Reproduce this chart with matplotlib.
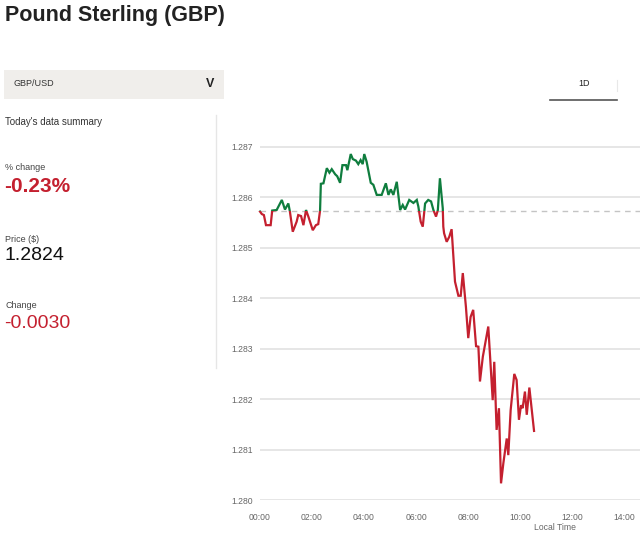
import matplotlib
matplotlib.use("Agg")
import matplotlib.pyplot as plt
from matplotlib.patches import Rectangle
from matplotlib.lines import Line2D

plt.rcParams['font.family'] = ['Liberation Sans', 'DejaVu Sans']

# --- data (local time in hours, GBP/USD price) ---
hours = [0.00, 0.07, 0.15, 0.23, 0.41, 0.47, 0.64, 0.84, 0.96, 1.09, 1.15, 1.26,
         1.41, 1.47, 1.58, 1.67, 1.77, 1.86, 2.03, 2.15, 2.24, 2.31, 2.34, 2.44,
         2.57, 2.67, 2.76, 2.89, 2.97, 3.08, 3.17, 3.31, 3.36, 3.49, 3.57, 3.69,
         3.78, 3.87, 3.95, 4.01, 4.10, 4.26, 4.36, 4.49, 4.68, 4.84, 4.94, 5.03,
         5.13, 5.26, 5.39, 5.49, 5.58, 5.74, 5.90, 6.03, 6.09, 6.18, 6.26, 6.35,
         6.47, 6.58, 6.67, 6.77, 6.84, 6.92, 7.03, 7.05, 7.08, 7.18, 7.28, 7.37,
         7.50, 7.63, 7.72, 7.80, 7.92, 8.01, 8.10, 8.20, 8.31, 8.40, 8.46, 8.57,
         8.78, 8.95, 9.01, 9.10, 9.19, 9.27, 9.36, 9.49, 9.55, 9.64, 9.78, 9.87,
         9.96, 10.04, 10.10, 10.19, 10.26, 10.36, 10.54]
prices = [1.28572, 1.28567, 1.28565, 1.28545, 1.28545, 1.28574, 1.28575, 1.28595,
          1.28576, 1.28588, 1.28572, 1.28532, 1.28552, 1.28565, 1.28563, 1.28545,
          1.28575, 1.28562, 1.28535, 1.28545, 1.28547, 1.28574, 1.28627, 1.28628,
          1.28658, 1.28649, 1.28656, 1.28646, 1.28642, 1.28629, 1.28664, 1.28664,
          1.28654, 1.28686, 1.28676, 1.28673, 1.28666, 1.28674, 1.28666, 1.28686,
          1.28671, 1.28629, 1.28625, 1.28605, 1.28605, 1.28628, 1.28605, 1.28616,
          1.28605, 1.28631, 1.28575, 1.28585, 1.28576, 1.28595, 1.28589, 1.28595,
          1.28582, 1.28552, 1.28542, 1.28588, 1.28595, 1.28592, 1.28575, 1.28562,
          1.28575, 1.28638, 1.28578, 1.28542, 1.28529, 1.28512, 1.28522, 1.28537,
          1.28433, 1.28405, 1.28405, 1.28450, 1.28383, 1.28321, 1.28363, 1.28377,
          1.28305, 1.28304, 1.28235, 1.28284, 1.28344, 1.28198, 1.28274, 1.28139,
          1.28182, 1.28033, 1.28073, 1.28122, 1.28089, 1.28178, 1.28250, 1.28238,
          1.28159, 1.28188, 1.28182, 1.28215, 1.28169, 1.28223, 1.28137]
prev_close = 1.28574

y_ticks = [1.280, 1.281, 1.282, 1.283, 1.284, 1.285, 1.286, 1.287]
x_ticks = [0, 2, 4, 6, 8, 10, 12, 14]
x_labels = ["00:00", "02:00", "04:00", "06:00", "08:00", "10:00", "12:00", "14:00"]

summary_labels = ["% change", "Price ($)", "Change"]
summary_values = ["-0.23%", "1.2824", "-0.0030"]

GREEN = "#0f7d3e"
RED = "#c4202f"
W, H = 640, 540

fig = plt.figure(figsize=(6.4, 5.4), dpi=100)


def fx(px):
    return px / W


def fy(py):
    return 1 - py / H


# header
fig.text(fx(5), fy(16), "Pound Sterling (GBP)", fontsize=15.5, fontweight="bold",
         color="#222222", va="center", ha="left")

# dropdown
fig.patches.append(Rectangle((fx(4), fy(99)), fx(220), 29 / H, transform=fig.transFigure,
                             facecolor="#f0eeeb", edgecolor="none"))
fig.text(fx(13), fy(84), "GBP/USD", fontsize=6.5, color="#333333", va="center")
fig.text(fx(210), fy(84), "V", fontsize=9, fontweight="bold", color="#222222",
         va="center", ha="center")

# 1D button
fig.text(fx(584), fy(84), "1D", fontsize=6.5, color="#222222", va="center", ha="center")
fig.lines.append(Line2D([fx(550), fx(617)], [fy(100), fy(100)], transform=fig.transFigure,
                        color="#555555", lw=1.2))
fig.lines.append(Line2D([fx(617), fx(617)], [fy(80), fy(91)], transform=fig.transFigure,
                        color="#e8e8e8", lw=0.8))

# summary panel
fig.text(fx(5), fy(122), "Today's data summary", fontsize=7, color="#333333", va="center")
fig.lines.append(Line2D([fx(216), fx(216)], [fy(115), fy(368)], transform=fig.transFigure,
                        color="#e6e6e6", lw=1))
label_y = [167, 239, 306]
value_y = [187, 256, 323]
for i in range(3):
    fig.text(fx(5), fy(label_y[i]), summary_labels[i], fontsize=6.5, color="#444444",
             va="center")
summary_colors = [RED, "#111111", RED]
summary_weights = ["bold", "normal", "normal"]
summary_sizes = [15, 14, 14]
for i in range(3):
    fig.text(fx(4), fy(value_y[i]), summary_values[i], fontsize=summary_sizes[i],
             fontweight=summary_weights[i], color=summary_colors[i], va="center")

# chart
x_max = (W - 260) / 26.0
y_min, y_max = 1.280, 1.2872
ax = fig.add_axes([fx(260), fy(500), fx(380), (y_max - y_min) * 50430 / H])
ax.set_xlim(0, x_max)
ax.set_ylim(y_min, y_max)
for s in ax.spines.values():
    s.set_visible(False)
ax.set_yticks(y_ticks)
ax.set_yticklabels(["%.3f" % v for v in y_ticks])
ax.set_xticks(x_ticks)
ax.set_xticklabels(x_labels)
ax.tick_params(axis="both", length=0, labelsize=6.2, labelcolor="#666666")
ax.tick_params(axis="y", pad=5)
ax.tick_params(axis="x", pad=9)
ax.grid(axis="y", color="#e4e4e4", lw=1.3)
ax.set_axisbelow(True)

ax.axhline(prev_close, color="#c4c4c4", lw=1, dashes=(4, 3.5), zorder=1)

up, = ax.plot(hours, prices, color=GREEN, lw=1.6, zorder=3, solid_joinstyle="miter")
up.set_clip_path(Rectangle((-1, prev_close), x_max + 2, 1, transform=ax.transData))
down, = ax.plot(hours, prices, color=RED, lw=1.6, zorder=3, solid_joinstyle="miter")
down.set_clip_path(Rectangle((-1, prev_close - 1), x_max + 2, 1, transform=ax.transData))

fig.text(fx(555), fy(527), "Local Time", fontsize=6.2, color="#666666", ha="center", va="center")

fig.savefig("out.png", dpi=100)
